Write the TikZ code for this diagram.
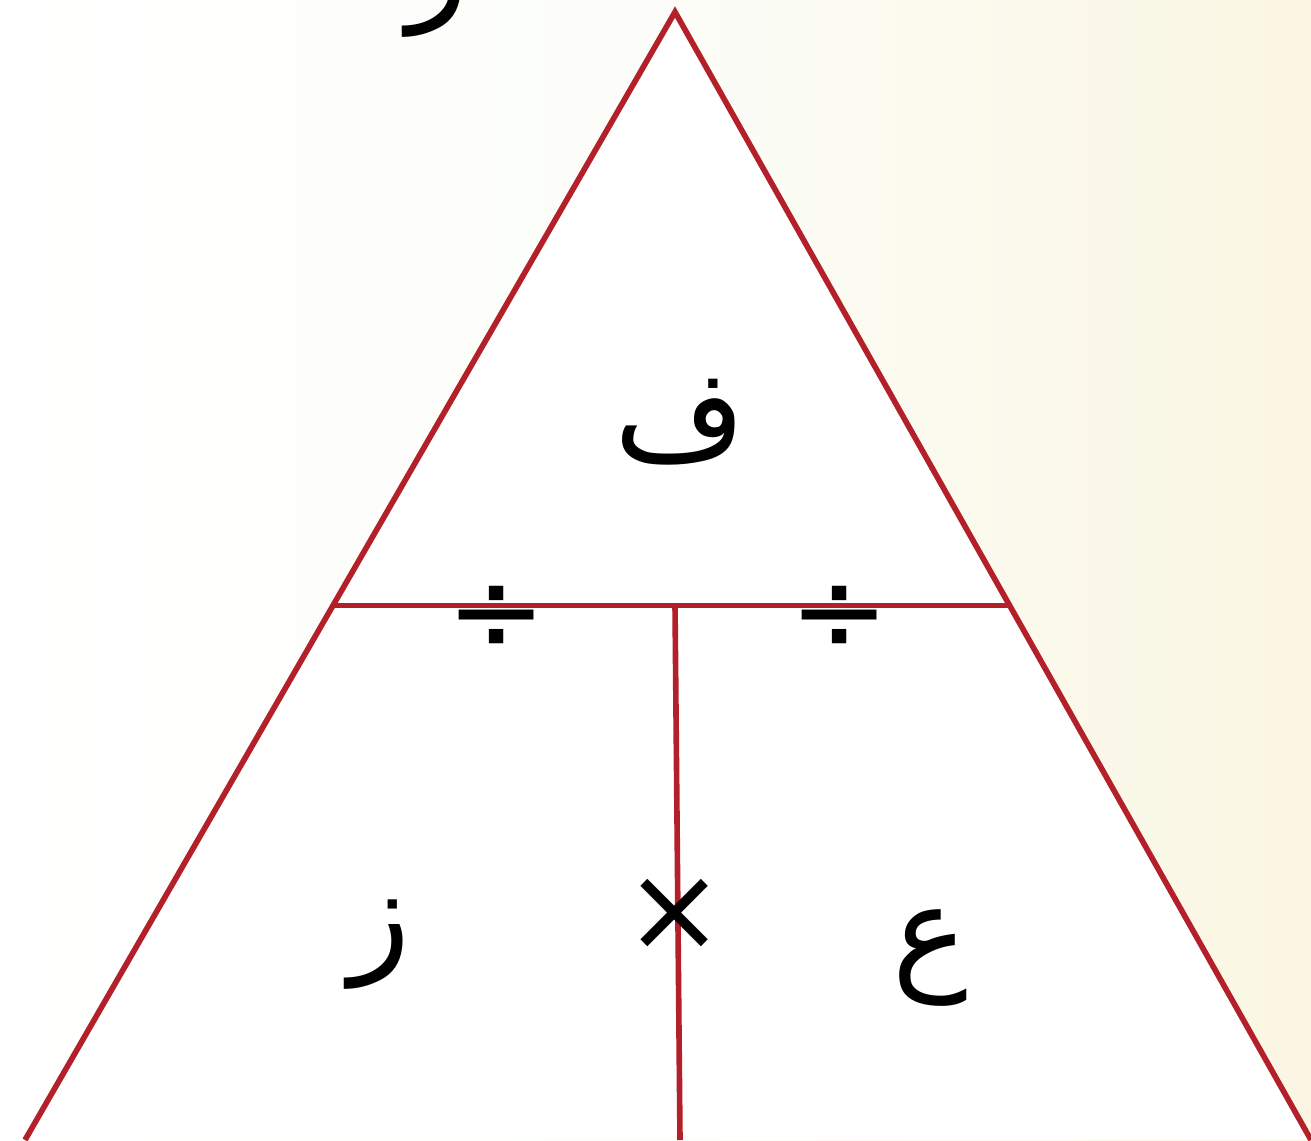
\documentclass[tikz,border=0pt]{standalone}
\usepackage{fontspec}
\usepackage{tikz}
\usetikzlibrary{calc,positioning}
\TeXXeTstate=1
\newfontfamily\arabicfont[Script=Arabic]{DejaVu Sans}
\newfontfamily\symfont{DejaVu Sans}
\definecolor{trired}{HTML}{B3202A}
\definecolor{bgcream}{HTML}{FAF6E2}
\definecolor{bggreen}{HTML}{F4F9E8}
\tikzset{
  edge/.style={draw=trired, line width=1.6pt},
  letter/.style={inner sep=0pt, font=\fontsize{36}{38}\selectfont\arabicfont},
  opsign/.style={inner sep=0pt, font=\fontsize{34}{36}\selectfont\symfont},
}
\begin{document}
\begin{tikzpicture}
  \clip (0,0) rectangle (13.11,11.40);
  \shade[left color=white, right color=bgcream, middle color=bggreen!30!white] (0,0) rectangle (13.11,11.40);
  % corners of the triangle
  \coordinate (apex) at (6.75,11.28);
  \coordinate (bl) at (0.25,0);
  \coordinate (br) at (13.11,0);
  \coordinate (ml) at ($(apex)!0.526!(bl)$);
  \coordinate (mr) at ($(apex)!0.526!(br)$);
  \coordinate (mc) at (6.75,5.35);
  \coordinate (bc) at (6.80,0);
  \fill[white] (apex) -- (bl) -- (br) -- cycle;
  \draw[edge, line join=miter] (bl) -- (apex) -- (br);
  \draw[edge] (ml) -- (mr);
  \draw[edge] (mc) -- (bc);
  % letters
  \node[letter] (f) at (6.80,7.18) {\beginR ف\endR};
  \node[letter] (z) at (3.80,1.95) {\beginR ز\endR};
  \node[letter] (ain) at (9.30,1.82) {\beginR ع\endR};
  \node[letter, anchor=south] (top) at (4.38,11.02) {\beginR ر\endR};
  % operators
  \node[opsign] (times) at (6.75,2.25) {×};
  \node[opsign] (divl) at (4.97,5.21) {÷};
  \node[opsign] (divr) at (8.40,5.21) {÷};
\end{tikzpicture}
\end{document}
